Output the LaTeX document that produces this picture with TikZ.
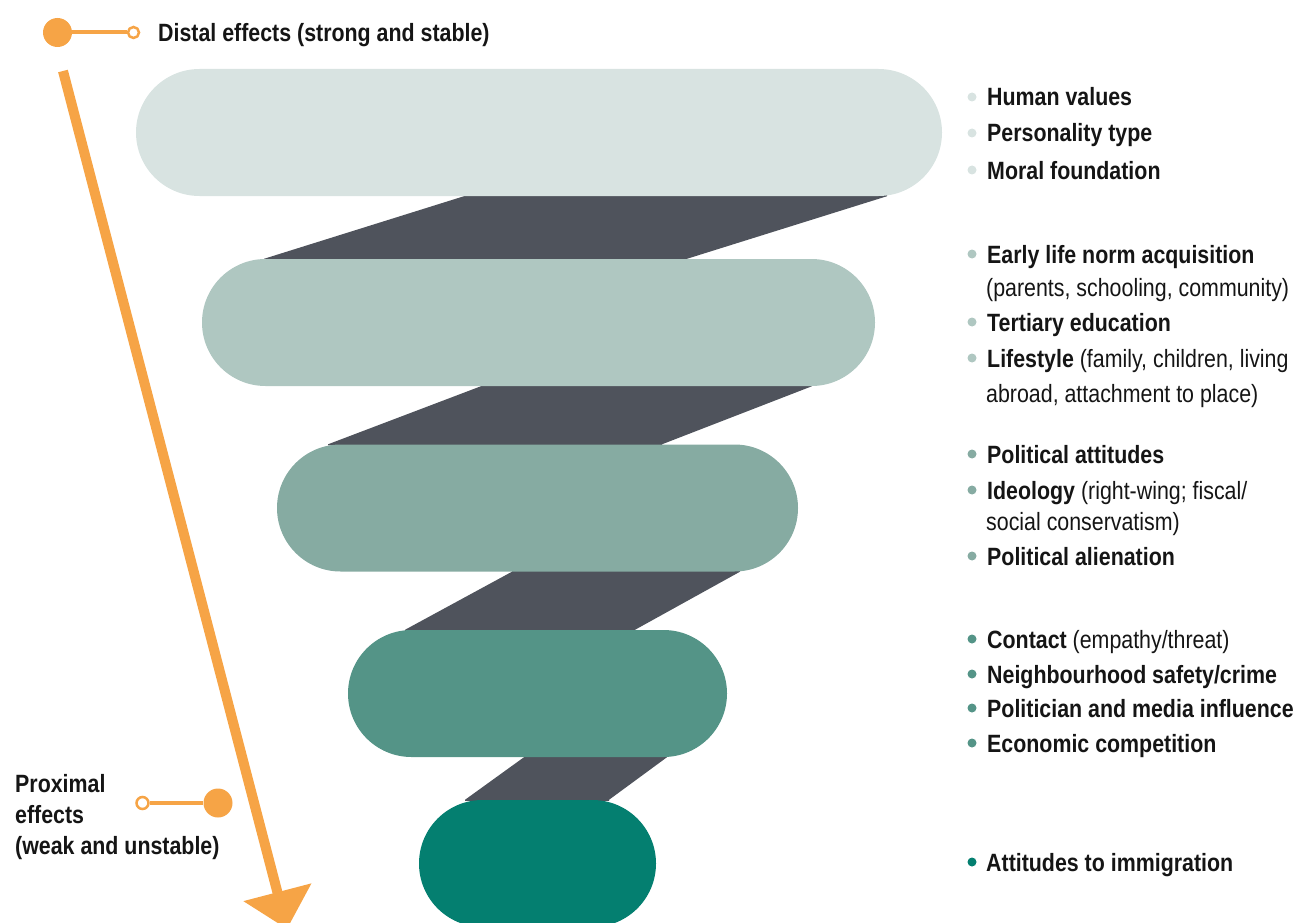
\documentclass[tikz,border=0pt]{standalone}
\usepackage{fontspec}
\setmainfont{Liberation Sans}[FakeStretch=0.855]
\usetikzlibrary{calc,arrows.meta}
\pgfdeclarelayer{background}
\pgfsetlayers{background,main}

\definecolor{tierA}{HTML}{D8E3E1}
\definecolor{tierB}{HTML}{AFC7C1}
\definecolor{tierC}{HTML}{86ABA2}
\definecolor{tierD}{HTML}{549487}
\definecolor{tierE}{HTML}{047F70}
\definecolor{bandgray}{HTML}{4F535C}
\definecolor{accent}{HTML}{F6A446}
\definecolor{ink}{HTML}{151515}

\begin{document}
\begin{tikzpicture}[x=1pt,y=-1pt,
  pill/.style={rounded corners=63.5pt, minimum height=127pt, inner sep=0pt, draw=none},
  band/.style={fill=bandgray},
  item/.style={anchor=base west, inner sep=0pt, text=ink, font=\fontsize{25}{30}\selectfont},
  dot/.style={radius=4.5pt}]

\useasboundingbox (0,0) rectangle (1296,923);
\clip (0,0) rectangle (1296,923);

% tiers of the funnel
\node[pill, fill=tierA, minimum width=806pt] (p1) at (539,132.5) {};
\node[pill, fill=tierB, minimum width=673pt] (p2) at (538.5,322.5) {};
\node[pill, fill=tierC, minimum width=521pt] (p3) at (537.5,508) {};
\node[pill, fill=tierD, minimum width=379pt] (p4) at (537.5,693.5) {};
\node[pill, fill=tierE, minimum width=237pt] (p5) at (537.5,863.5) {};

% dark slanted bands joining consecutive tiers
\begin{pgfonlayer}{background}
\fill[band] ($(p1.south)+(-75,-1)$) -- ($(p1.south)+(348,-1)$) -- ($(p1.south)+(348,0)$)
  -- ($(p2.north)+(148.5,0)$) -- ($(p2.north)+(148.5,1)$) -- ($(p2.north)+(-274.5,1)$)
  -- ($(p2.north)+(-274.5,0)$) -- ($(p1.south)+(-75,0)$) -- cycle;
\fill[band] ($(p2.south)+(-57.5,-1)$) -- ($(p2.south)+(273.5,-1)$) -- ($(p2.south)+(273.5,0)$)
  -- ($(p3.north)+(124.5,0)$) -- ($(p3.north)+(124.5,1)$) -- ($(p3.north)+(-209.5,1)$)
  -- ($(p3.north)+(-209.5,0)$) -- ($(p2.south)+(-57.5,0)$) -- cycle;
\fill[band] ($(p3.south)+(-25.5,-1)$) -- ($(p3.south)+(202.5,-1)$) -- ($(p3.south)+(202.5,0)$)
  -- ($(p4.north)+(97.5,0)$) -- ($(p4.north)+(97.5,1)$) -- ($(p4.north)+(-132.5,1)$)
  -- ($(p4.north)+(-132.5,0)$) -- ($(p3.south)+(-25.5,0)$) -- cycle;
\fill[band] ($(p4.south)+(-13.5,-1)$) -- ($(p4.south)+(129.5,-1)$) -- ($(p4.south)+(129.5,0)$)
  -- ($(p5.north)+(71.5,0)$) -- ($(p5.north)+(71.5,1)$) -- ($(p5.north)+(-72.5,1)$)
  -- ($(p5.north)+(-72.5,0)$) -- ($(p4.south)+(-13.5,0)$) -- cycle;
\end{pgfonlayer}

% long orange arrow from distal to proximal
\coordinate (arrowstart) at (63,71);
\coordinate (arrowtip) at (287,929);
\draw[accent, line width=10pt, -{Triangle[length=38pt,width=68pt]}] (arrowstart) -- (arrowtip);

% distal marker and caption
\node[circle, fill=accent, minimum size=29pt, inner sep=0pt] (dfull) at (57.5,32.5) {};
\node[circle, draw=accent, line width=2.5pt, fill=white, minimum size=11pt, inner sep=0pt] (dopen) at (133.5,32.5) {};
\draw[accent, line width=4pt] (dfull) -- (dopen);
\node[item, font=\fontsize{25}{30}\selectfont\bfseries] (distal) at (158,42) {Distal effects (strong and stable)};

% proximal marker and caption
\node[circle, fill=accent, minimum size=29pt, inner sep=0pt] (pfull) at (218,803) {};
\node[circle, draw=accent, line width=2.5pt, fill=white, minimum size=12pt, inner sep=0pt] (popen) at (142.5,803) {};
\draw[accent, line width=4pt] (popen) -- (pfull);
\node[item, font=\fontsize{25}{30}\selectfont\bfseries] (prox1) at (15,792) {Proximal};
\node[item, font=\fontsize{25}{30}\selectfont\bfseries] (prox2) at (15,823) {effects};
\node[item, font=\fontsize{25}{30}\selectfont\bfseries] (prox3) at (15,854) {(weak and unstable)};

% factor lists, one group per tier
\fill[tierA] (972,97) circle[dot];
\node[item] (a1) at (987,106) {\bfseries Human values};
\fill[tierA] (972,133) circle[dot];
\node[item] (a2) at (987,142) {\bfseries Personality type};
\fill[tierA] (972,170) circle[dot];
\node[item] (a3) at (987,179) {\bfseries Moral foundation};

\fill[tierB] (972,254) circle[dot];
\node[item] (b1) at (987,263) {\bfseries Early life norm acquisition};
\node[item] (b1b) at (986,296) {(parents, schooling, community)};
\fill[tierB] (972,322) circle[dot];
\node[item] (b2) at (987,331) {\bfseries Tertiary education};
\fill[tierB] (972,358) circle[dot];
\node[item] (b3) at (987,367) {\textbf{Lifestyle} (family, children, living};
\node[item] (b3b) at (986,402) {abroad, attachment to place)};

\fill[tierC] (972,454) circle[dot];
\node[item] (c1) at (987,463) {\bfseries Political attitudes};
\fill[tierC] (972,490) circle[dot];
\node[item] (c2) at (987,499) {\textbf{Ideology} (right-wing; fiscal/};
\node[item] (c2b) at (986,530) {social conservatism)};
\fill[tierC] (972,556) circle[dot];
\node[item] (c3) at (987,565) {\bfseries Political alienation};

\fill[tierD] (972,639) circle[dot];
\node[item] (d1) at (987,648) {\textbf{Contact} (empathy/threat)};
\fill[tierD] (972,674) circle[dot];
\node[item] (d2) at (987,683) {\bfseries Neighbourhood safety/crime};
\fill[tierD] (972,708) circle[dot];
\node[item] (d3) at (987,717) {\bfseries Politician and media influence};
\fill[tierD] (972,743) circle[dot];
\node[item] (d4) at (987,752) {\bfseries Economic competition};

\fill[tierE] (972,862) circle[dot];
\node[item] (e1) at (986,871) {\bfseries Attitudes to immigration};

\end{tikzpicture}
\end{document}
